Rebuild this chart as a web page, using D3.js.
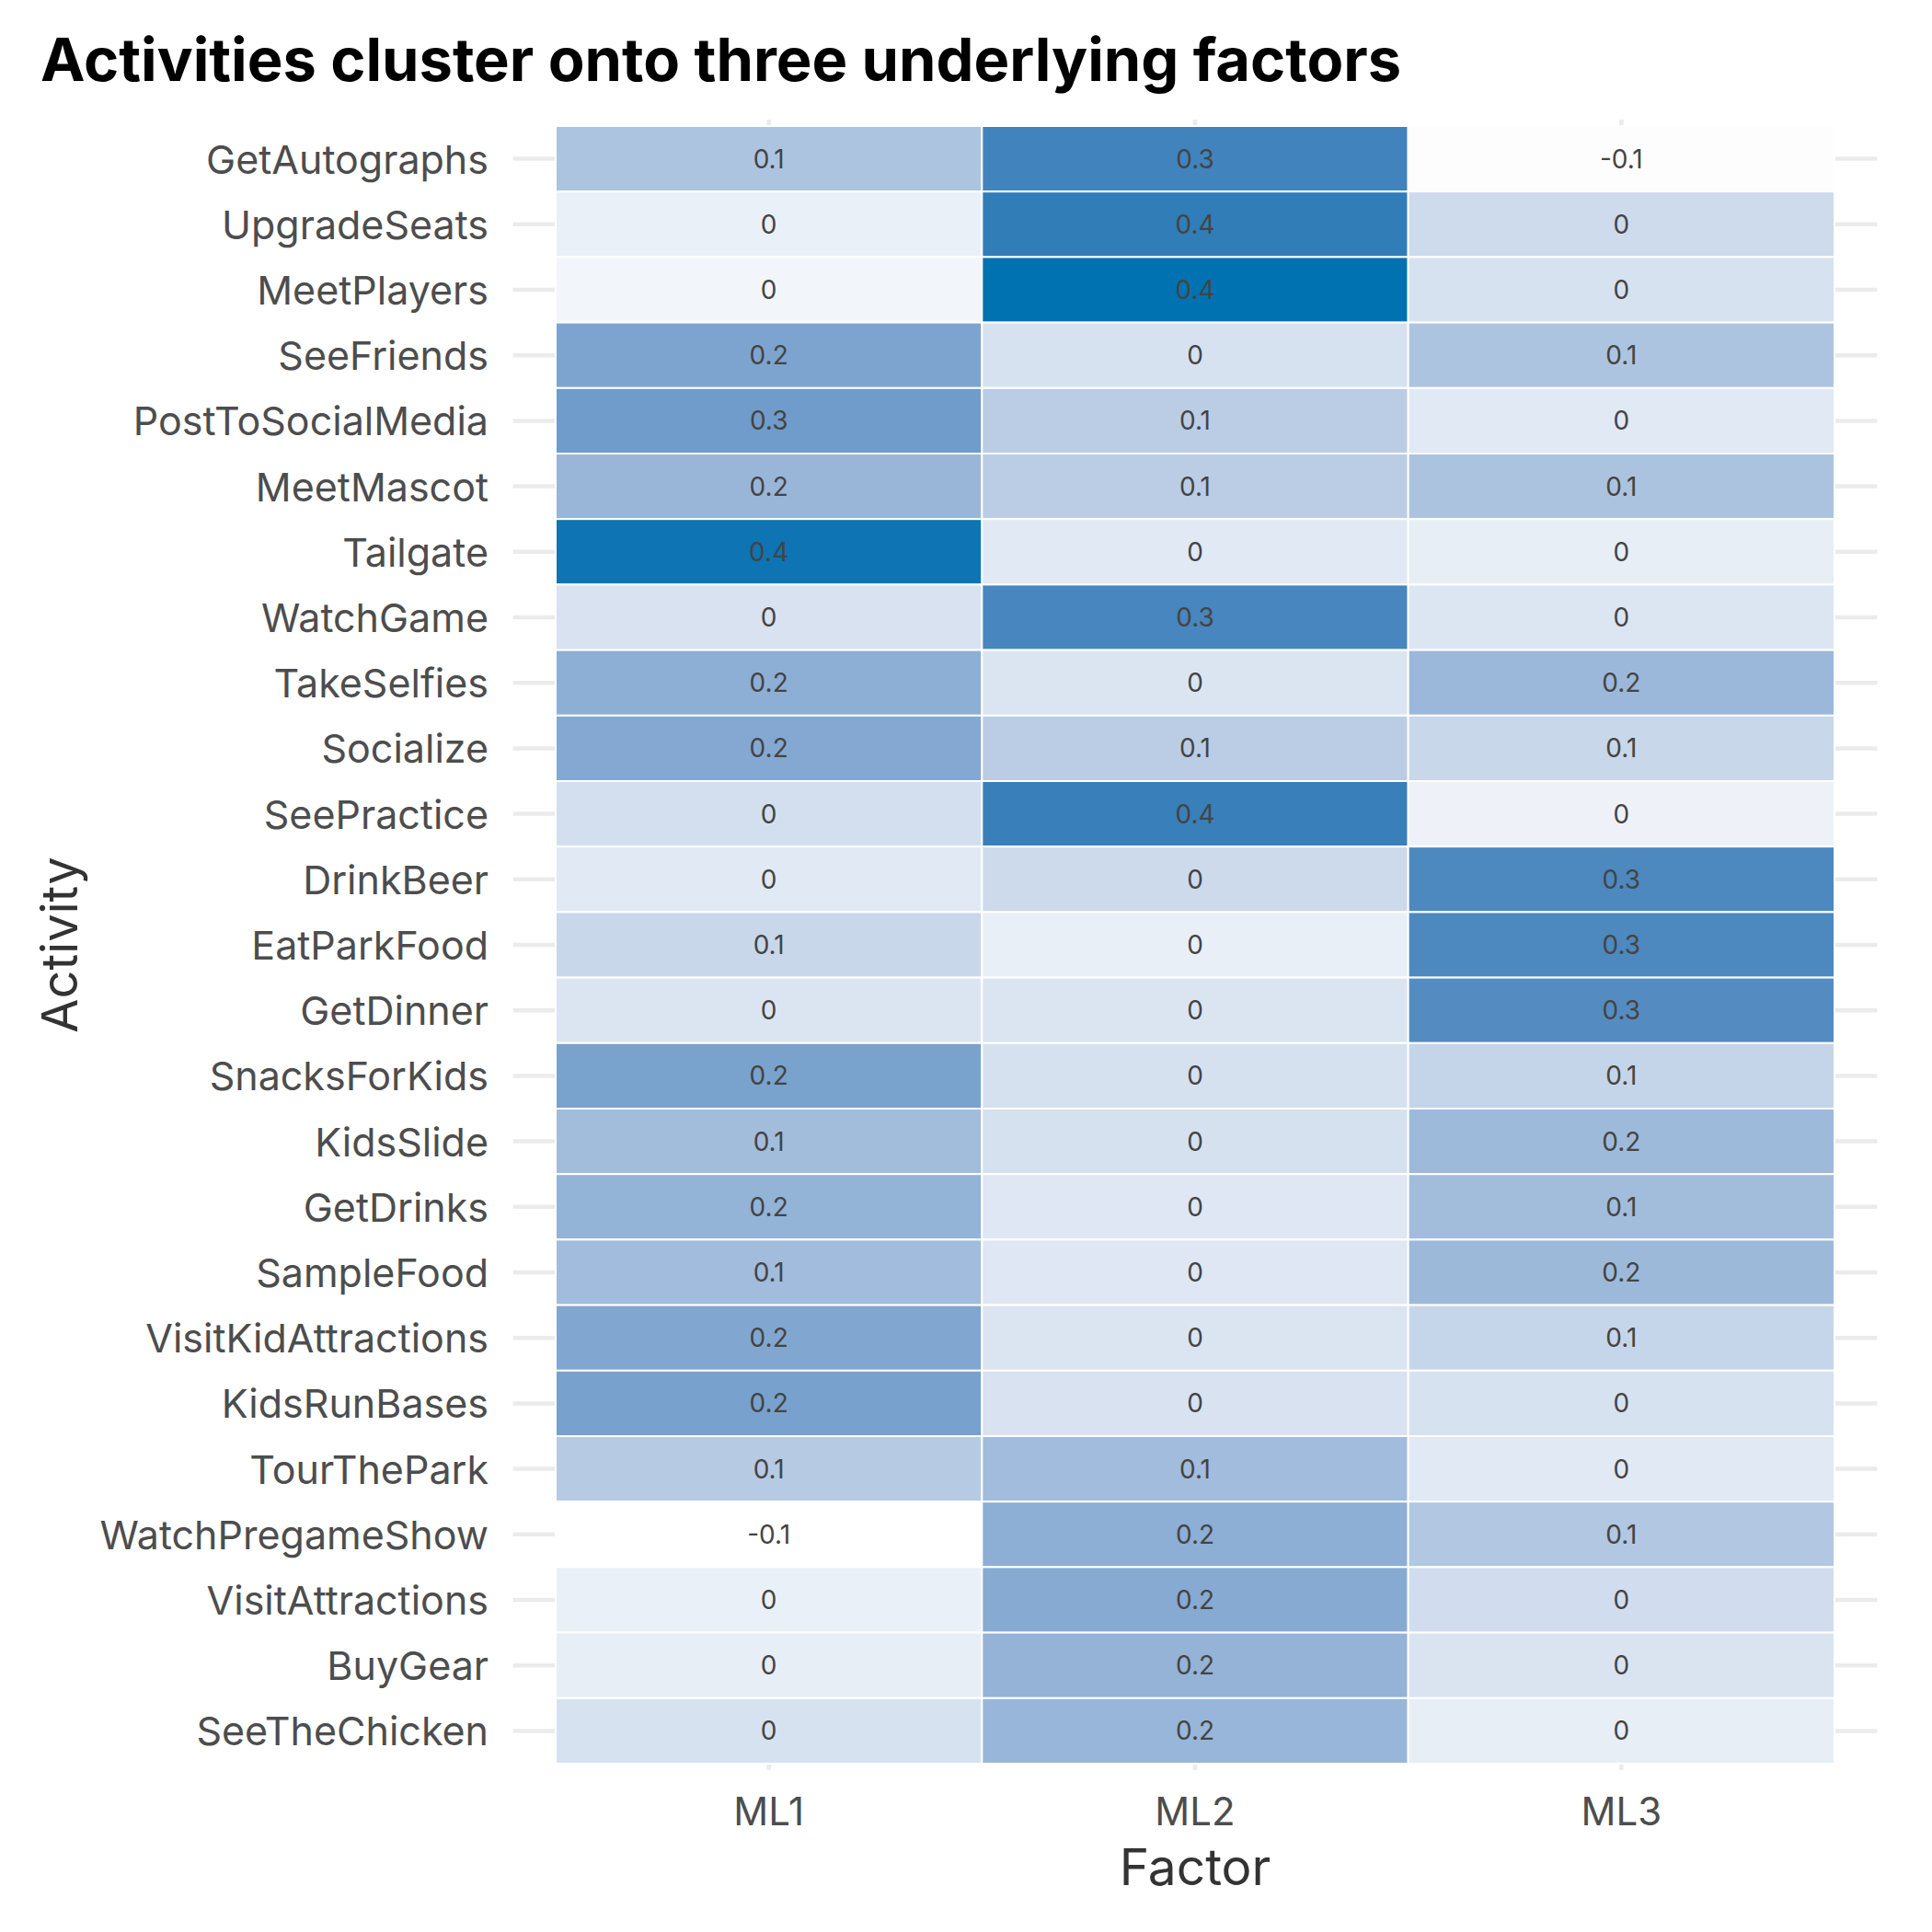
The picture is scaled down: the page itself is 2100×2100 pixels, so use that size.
<!DOCTYPE html>
<html>
<head>
<meta charset="utf-8">
<script src="https://cdn.jsdelivr.net/npm/d3@7"></script>
<style>
  html, body { margin: 0; padding: 0; background: #ffffff; }
  svg { display: block; font-family: Inter, "Noto Sans", sans-serif; }
</style>
</head>
<body>
<svg id="chart" width="2100" height="2100"></svg>
<script>
const activities = ["GetAutographs","UpgradeSeats","MeetPlayers","SeeFriends","PostToSocialMedia","MeetMascot","Tailgate","WatchGame","TakeSelfies","Socialize","SeePractice","DrinkBeer","EatParkFood","GetDinner","SnacksForKids","KidsSlide","GetDrinks","SampleFood","VisitKidAttractions","KidsRunBases","TourThePark","WatchPregameShow","VisitAttractions","BuyGear","SeeTheChicken"];
const factors = ["ML1","ML2","ML3"];
const ml1 = [0.118,-0.023,-0.040,0.225,0.253,0.163,0.394,0.020,0.190,0.210,0.031,0.000,0.057,0.012,0.233,0.143,0.176,0.145,0.215,0.235,0.097,-0.070,-0.023,-0.016,0.022];
const ml2 = [0.340,0.362,0.400,0.022,0.088,0.088,0.000,0.330,0.012,0.088,0.352,0.046,-0.020,0.012,0.024,0.026,0.005,0.005,0.012,0.020,0.145,0.190,0.205,0.174,0.165];
const ml3 = [-0.065,0.045,0.022,0.118,0.000,0.120,-0.016,0.010,0.158,0.057,-0.030,0.320,0.320,0.306,0.064,0.152,0.143,0.154,0.060,0.022,0.000,0.108,0.036,0.015,-0.016];

const title = "Activities cluster onto three underlying factors";
const xTitle = "Factor";
const yTitle = "Activity";

const seriesByFactor = { ML1: ml1, ML2: ml2, ML3: ml3 };
const cells = [];
activities.forEach((a, i) => {
  factors.forEach(f => cells.push({ activity: a, factor: f, value: seriesByFactor[f][i] }));
});

const svg = d3.select("#chart");

// panel geometry
const tileLeft = 604, tileRight = 1994, tileTop = 137, tileBottom = 1917;
const x = d3.scaleBand().domain(factors).range([tileLeft, tileRight]).padding(0);
const y = d3.scaleBand().domain(activities).range([tileTop, tileBottom]).padding(0);
const expX = x.bandwidth() * 0.1, expY = y.bandwidth() * 0.1;
const panelLeft = tileLeft - expX, panelRight = tileRight + expX;
const panelTop = tileTop - expY, panelBottom = tileBottom + expY;

const allVals = cells.map(d => d.value);
const color = d3.scaleLinear()
  .domain(d3.extent(allVals))
  .range(["#ffffff", "#0072B2"])
  .interpolate(d3.interpolateLab);

// gridlines
const grid = svg.append("g");
grid.selectAll("line.h").data(activities).join("line")
  .attr("x1", panelLeft).attr("x2", panelRight)
  .attr("y1", d => y(d) + y.bandwidth() / 2).attr("y2", d => y(d) + y.bandwidth() / 2)
  .attr("stroke", "#ebebeb").attr("stroke-width", 4.5);
grid.selectAll("line.v").data(factors).join("line")
  .attr("y1", panelTop).attr("y2", panelBottom)
  .attr("x1", d => x(d) + x.bandwidth() / 2).attr("x2", d => x(d) + x.bandwidth() / 2)
  .attr("stroke", "#ebebeb").attr("stroke-width", 4.5);

// tiles
svg.append("g").selectAll("rect").data(cells).join("rect")
  .attr("x", d => x(d.factor))
  .attr("y", d => y(d.activity))
  .attr("width", x.bandwidth())
  .attr("height", y.bandwidth())
  .attr("fill", d => color(d.value))
  .attr("stroke", "#ffffff")
  .attr("stroke-width", 2);

// value labels
const fmt = v => String(Math.round(v * 10) / 10 + 0);
svg.append("g").selectAll("text").data(cells).join("text")
  .attr("x", d => x(d.factor) + x.bandwidth() / 2)
  .attr("y", d => y(d.activity) + y.bandwidth() / 2)
  .attr("text-anchor", "middle")
  .attr("dominant-baseline", "central")
  .attr("font-size", 28)
  .attr("fill", "#444444")
  .text(d => fmt(d.value));

// y axis labels
svg.append("g").selectAll("text").data(activities).join("text")
  .attr("x", 531)
  .attr("y", d => y(d) + y.bandwidth() / 2)
  .attr("text-anchor", "end")
  .attr("dominant-baseline", "central")
  .attr("font-size", 43)
  .attr("fill", "#4d4d4d")
  .text(d => d);

// x axis labels
svg.append("g").selectAll("text").data(factors).join("text")
  .attr("x", d => x(d) + x.bandwidth() / 2)
  .attr("y", 1968)
  .attr("text-anchor", "middle")
  .attr("dominant-baseline", "central")
  .attr("font-size", 42)
  .attr("fill", "#4d4d4d")
  .text(d => d);

// axis titles
svg.append("text")
  .attr("x", (panelLeft + panelRight) / 2)
  .attr("y", 2029)
  .attr("text-anchor", "middle")
  .attr("dominant-baseline", "central")
  .attr("font-size", 55)
  .attr("fill", "#333333")
  .text(xTitle);

svg.append("text")
  .attr("transform", `translate(64, ${(panelTop + panelBottom) / 2}) rotate(-90)`)
  .attr("text-anchor", "middle")
  .attr("dominant-baseline", "central")
  .attr("font-size", 54)
  .attr("fill", "#333333")
  .text(yTitle);

// title
svg.append("text")
  .attr("x", 44)
  .attr("y", 88)
  .attr("font-size", 65)
  .attr("font-weight", 700)
  .attr("fill", "#000000")
  .text(title);
</script>
</body>
</html>
